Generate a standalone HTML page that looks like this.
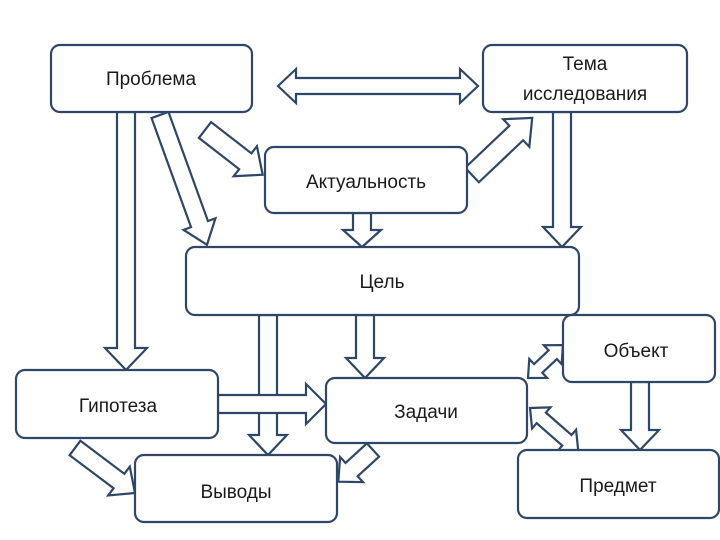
<!DOCTYPE html>
<html><head><meta charset="utf-8"><style>
html,body{margin:0;padding:0;background:#fff}
svg{display:block}
text{font-family:"Liberation Sans","DejaVu Sans",sans-serif;font-size:19px;fill:#1a1a1a}
</style></head><body>
<svg width="720" height="540" viewBox="0 0 720 540">
<g fill="#fff" stroke="#2f4766" stroke-width="2.2" stroke-linejoin="miter">
<polygon transform="translate(278,86)" points="0,0 18,-17 18,-8 182,-8 182,-17 200,0 182,17 182,8 18,8 18,17"/>
<polygon transform="translate(126,112) rotate(90)" points="0,-9 236,-9 236,-21 258,0 236,21 236,9 0,9"/>
<polygon transform="translate(160,115) rotate(70.1)" points="0,-9 116,-9 116,-17 138,0 116,17 116,9 0,9"/>
<polygon transform="translate(205,130) rotate(37.8)" points="0,-10 51,-10 51,-19 73,0 51,19 51,10 0,10"/>
<polygon transform="translate(472,175) rotate(-43.5)" points="0,-10 61,-10 61,-19 83,0 61,19 61,10 0,10"/>
<polygon transform="translate(362,213) rotate(90)" points="0,-9 17,-9 17,-19 34,0 17,19 17,9 0,9"/>
<polygon transform="translate(562,112) rotate(90)" points="0,-9 115,-9 115,-19 135,0 115,19 115,9 0,9"/>
<polygon transform="translate(268,315) rotate(90)" points="0,-9 120,-9 120,-19 140,0 120,19 120,9 0,9"/>
<polygon transform="translate(365,315) rotate(90)" points="0,-9 43,-9 43,-19 63,0 43,19 43,9 0,9"/>
<polygon transform="translate(218,404) rotate(0)" points="0,-9 88,-9 88,-20 108,0 88,20 88,9 0,9"/>
<polygon transform="translate(75,448) rotate(36.9)" points="0,-9 55,-9 55,-18 75,0 55,18 55,9 0,9"/>
<polygon transform="translate(373,450) rotate(137.6)" points="0,-9 29,-9 29,-17 47,0 29,17 29,9 0,9"/>
<polygon transform="translate(528,378) rotate(-43.3)" points="0,0 14,-13 14,-6 34,-6 34,-13 48,0 34,13 34,6 14,6 14,13"/>
<polygon transform="translate(530,408) rotate(41.2)" points="0,0 15,-14 15,-7 49,-7 49,-14 64,0 49,14 49,7 15,7 15,14"/>
<polygon transform="translate(640,382) rotate(90)" points="0,-9 48,-9 48,-19 68,0 48,19 48,9 0,9"/>

<rect x="51" y="45" width="201" height="67" rx="9"/>
<rect x="483" y="45" width="204" height="67" rx="9"/>
<rect x="265" y="147" width="202" height="66" rx="9"/>
<rect x="186" y="247" width="393" height="68" rx="9"/>
<rect x="563" y="315" width="152" height="67" rx="9"/>
<rect x="16" y="370" width="202" height="68" rx="9"/>
<rect x="326" y="378" width="201" height="65" rx="9"/>
<rect x="135" y="455" width="202" height="67" rx="9"/>
<rect x="518" y="450" width="201" height="68" rx="9"/>
</g>
<g text-anchor="middle">
<text x="151" y="85">Проблема</text>
<text x="585" y="70">Тема</text>
<text x="585" y="100">исследования</text>
<text x="366" y="188">Актуальность</text>
<text x="382" y="288">Цель</text>
<text x="636" y="357">Объект</text>
<text x="118" y="412">Гипотеза</text>
<text x="426" y="418">Задачи</text>
<text x="236" y="498">Выводы</text>
<text x="618" y="492">Предмет</text>
</g>
</svg>
</body></html>
